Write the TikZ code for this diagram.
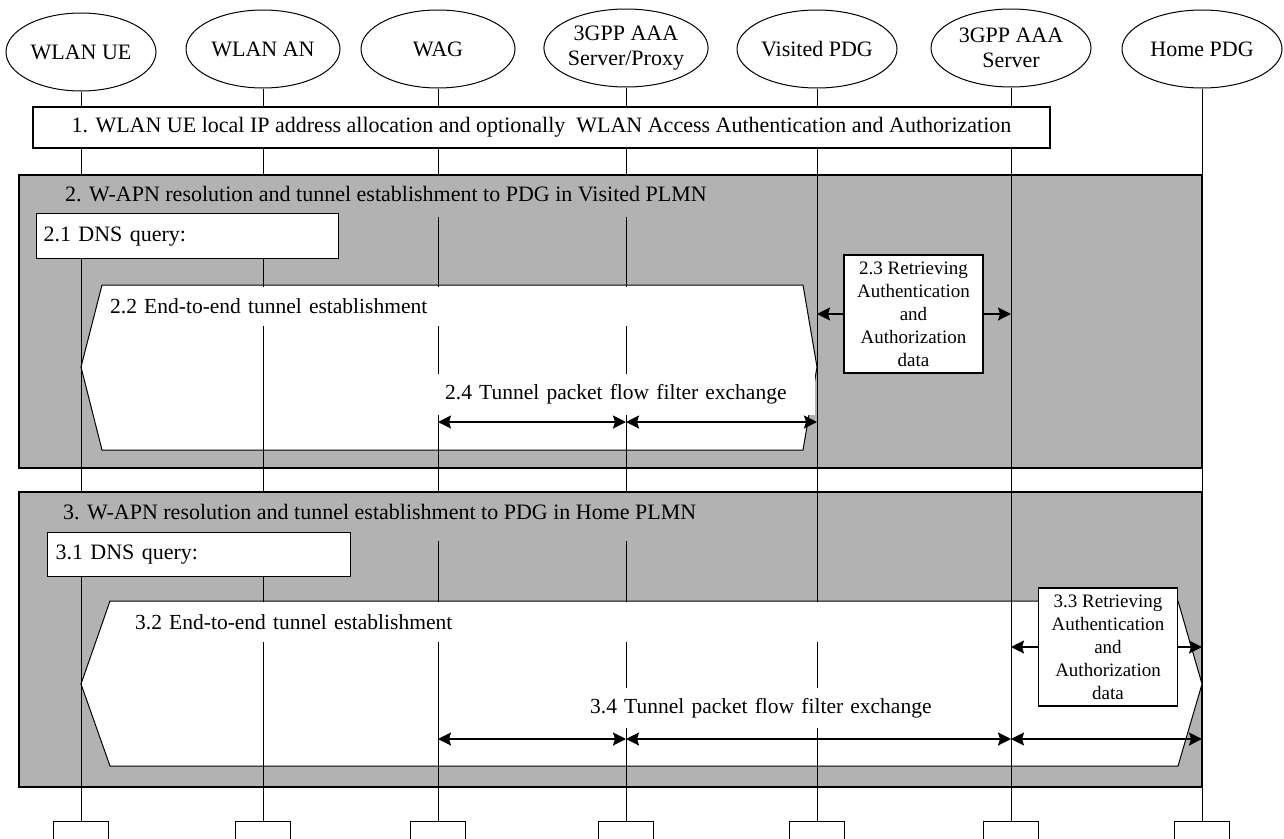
\documentclass[tikz,border=0pt]{standalone}
\usepackage{fontspec}
\setmainfont{Liberation Serif}
\usetikzlibrary{arrows.meta,positioning,shapes.geometric}

\tikzset{
  actor/.style={draw, ellipse, line width=1pt, fill=white, minimum width=160pt, minimum height=78pt,
    inner sep=0pt, align=center, font=\fontsize{22}{25}\selectfont},
  fin/.style={draw, line width=1pt, fill=white, minimum width=55pt, minimum height=30pt, anchor=north},
  fase/.style={draw, line width=1.2pt, fill=black!30},
  titulo/.style={anchor=west, inner sep=0pt, font=\fontsize{22}{25}\selectfont},
  caja/.style={draw, line width=1.2pt, fill=white, inner sep=0pt, font=\fontsize{22}{25}\selectfont},
  tunel/.style={draw, line width=1pt, fill=white},
  etiq/.style={fill=white, inner ysep=0pt, anchor=north west, align=left, font=\fontsize{21.5}{25}\selectfont},
  datos/.style={draw, line width=1.2pt, fill=white, align=center, minimum width=139pt, minimum height=118pt,
    inner sep=0pt, font=\fontsize{19}{23}\selectfont},
  vida/.style={line width=1pt},
  msg/.style={line width=2.2pt, {Stealth[length=13pt,width=13pt,inset=2pt]}-{Stealth[length=13pt,width=13pt,inset=2pt]}},
  env/.style={line width=2.2pt, -{Stealth[length=13pt,width=13pt,inset=2pt]}}
}

\begin{document}
\begin{tikzpicture}[x=1pt,y=-1pt]
  \useasboundingbox (0,0) rectangle (1284,838);
  \clip (0,0) rectangle (1284,838);
  % Entidades
  \node[actor, minimum width=150pt] (ue) at (81,52) {WLAN UE};
  \node[actor, minimum width=154pt] (an) at (263,49) {WLAN AN};
  \node[actor, minimum width=154pt] (wag) at (438,49) {WAG};
  \node[actor] (aaap) at (626,48) {3GPP AAA\\Server/Proxy};
  \node[actor] (vpdg) at (817,49) {Visited PDG};
  \node[actor] (aaa) at (1011,48) {3GPP AAA\\Server};
  \node[actor] (hpdg) at (1202,49) {Home PDG};
  % Cajas finales
  \node[fin] (ue-f) at (81,821) {};
  \node[fin] (an-f) at (263,821) {};
  \node[fin] (wag-f) at (438,821) {};
  \node[fin] (aaap-f) at (626,821) {};
  \node[fin] (vpdg-f) at (817,821) {};
  \node[fin] (aaa-f) at (1011,821) {};
  \node[fin] (hpdg-f) at (1202,821) {};
  % Fases 2 y 3
  \draw[fase] (19,175) rectangle (1202,468);
  \draw[fase] (19,492) rectangle (1202,787);
  % Tuneles
  \draw[tunel] (81,367) -- (102,285) -- (803,285) -- (817,367) -- (803,450) -- (102,450) -- cycle;
  \draw[tunel] (81,684) -- (110,601) -- (1178,601) -- (1202,684) -- (1178,766) -- (110,766) -- cycle;
  % Lineas de vida
  \foreach \a in {ue,an,wag,aaap,vpdg,aaa,hpdg}
    \draw[vida] (\a) -- (\a-f);
  % Titulos de fase
  \fill[black!30] (20,176) rectangle (720,217);
  \fill[black!30] (20,493) rectangle (715,541);
  \node[titulo] (f2) at (65,194) {2. W-APN resolution and tunnel establishment to PDG in Visited PLMN};
  \node[titulo] (f3) at (63,512) {3. W-APN resolution and tunnel establishment to PDG in Home PLMN};
  % Pasos
  \node[caja, minimum width=1017pt, minimum height=41pt] (p1) at (541.5,127.5)
    {1. WLAN UE local IP address allocation and optionally\ \ WLAN Access Authentication and Authorization};
  \node[caja, anchor=north west, inner xsep=7pt, text width=288pt, minimum height=45pt, align=left] (p21) at (36,213) {2.1 DNS query:};
  \node[caja, anchor=north west, inner xsep=8pt, text width=287pt, minimum height=44pt, align=left] (p31) at (47,532) {3.1 DNS query:};
  \node[etiq, inner xsep=6pt, text width=680pt, minimum height=39pt] (p22) at (104,286.5) {2.2 End-to-end tunnel establishment};
  \node[etiq, inner xsep=23pt, text width=840pt, minimum height=40pt] (p32) at (112,602) {3.2 End-to-end tunnel establishment};
  \node[etiq, inner xsep=13pt, text width=357pt, minimum height=41pt] (p24) at (432,374) {2.4 Tunnel packet flow filter exchange};
  \node[etiq, inner xsep=13pt, text width=397pt, minimum height=40pt] (p34) at (577,688) {3.4 Tunnel packet flow filter exchange};
  \node[datos] (p23) at (913.5,314) {2.3 Retrieving\\Authentication\\and\\Authorization\\data};
  \node[datos] (p33) at (1108,647) {3.3 Retrieving\\Authentication\\and\\Authorization\\data};
  % Flechas
  \coordinate (m24) at (0,422);
  \coordinate (m34) at (0,739);
  \draw[env] (p23.west) -- (p23.west -| vpdg);
  \draw[env] (p23.east) -- (p23.east -| aaa);
  \draw[env] (p33.west) -- (p33.west -| aaa);
  \draw[env] (p33.east) -- (p33.east -| hpdg);
  \draw[msg] (wag |- m24) -- (aaap |- m24);
  \draw[msg] (aaap |- m24) -- (vpdg |- m24);
  \draw[msg] (wag |- m34) -- (aaap |- m34);
  \draw[msg] (aaap |- m34) -- (aaa |- m34);
  \draw[msg] (aaa |- m34) -- (hpdg |- m34);
\end{tikzpicture}
\end{document}
